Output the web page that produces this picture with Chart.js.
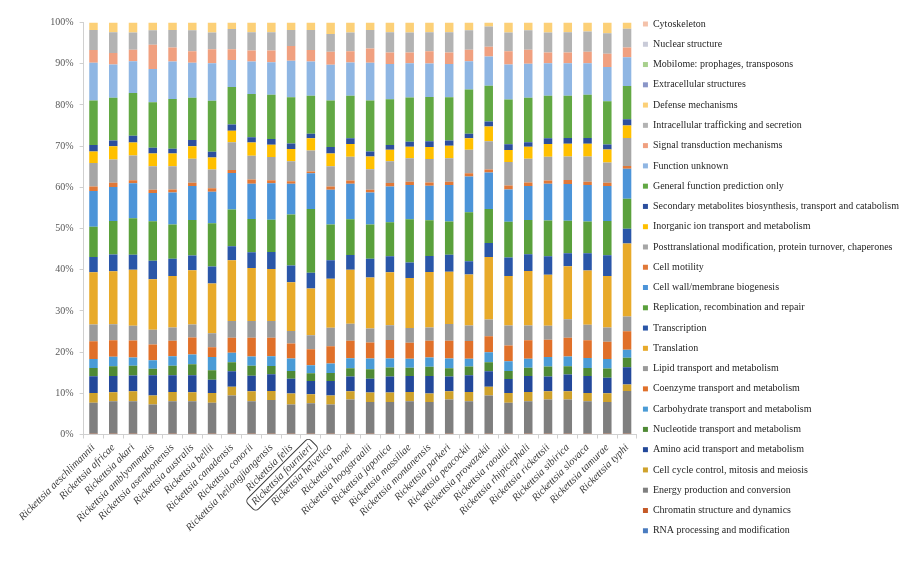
<!DOCTYPE html>
<html>
<head>
<meta charset="utf-8">
<title>COG functional categories in Rickettsia genomes</title>
<script src="https://cdn.jsdelivr.net/npm/chart.js@4/dist/chart.umd.min.js"></script>
<style>
  html, body { margin: 0; padding: 0; background: #ffffff; }
  canvas { display: block; }
</style>
</head>
<body>
<canvas id="cog" width="909" height="575"></canvas>
<script>
// Species on the category axis
const species = [
  'Rickettsia aeschlimannii', 'Rickettsia africae', 'Rickettsia akari', 'Rickettsia amblyommatis',
  'Rickettsia asembonensis', 'Rickettsia australis', 'Rickettsia bellii', 'Rickettsia canadensis',
  'Rickettsia conorii', 'Rickettsia heilongjiangensis', 'Rickettsia felis', 'Rickettsia fournieri',
  'Rickettsia helvetica', 'Rickettsia honei', 'Rickettsia hoogstraalii', 'Rickettsia japonica',
  'Rickettsia massiliae', 'Rickettsia montanensis', 'Rickettsia parkeri', 'Rickettsia peacockii',
  'Rickettsia prowazekii', 'Rickettsia raoultii', 'Rickettsia rhipicephali', 'Rickettsia rickettsii',
  'Rickettsia sibirica', 'Rickettsia slovaca', 'Rickettsia tamurae', 'Rickettsia typhi'
];
const highlighted = 'Rickettsia fournieri';

// Percentage axis labels
const percentTicks = ['0%', '10%', '20%', '30%', '40%', '50%', '60%', '70%', '80%', '90%', '100%'];

// Share of genes (%) per COG category, one value per species
const rnaProcessing = [0.1,0.1,0.1,0.1,0.1,0.1,0.1,0.1,0.1,0.1,0.1,0.1,0.1,0.1,0.1,0.1,0.1,0.1,0.1,0.1,0.1,0.1,0.1,0.1,0.1,0.1,0.1,0.1];
const chromatin     = [0.1,0.1,0.1,0.1,0.1,0.1,0.1,0.1,0.1,0.1,0.1,0.1,0.1,0.1,0.1,0.1,0.1,0.1,0.1,0.1,0.1,0.1,0.1,0.1,0.1,0.1,0.1,0.1];
const energy        = [7.5,7.9,7.9,7.1,7.9,7.9,7.5,9.3,7.9,8.2,7.1,7.4,7.1,8.3,7.7,7.7,7.9,7.7,8.3,7.9,9.3,7.5,7.9,8.3,8.3,7.9,7.7,10.4];
const cellCycle     = [2.4,2.2,2.4,2.2,2.2,2.2,2.4,2.1,2.4,2.2,2.7,2.2,2.2,2.0,2.3,2.3,2.2,2.1,2.0,2.2,2.1,2.4,2.2,2.0,2.0,2.0,2.1,1.6];
const aminoAcid     = [4.1,3.9,3.8,4.9,4.1,4.1,3.2,3.8,3.8,4.1,3.6,3.2,3.5,3.6,3.4,3.9,3.9,4.2,3.6,4.1,3.8,3.4,3.9,3.6,4.1,4.1,3.8,4.2];
const nucleotide    = [2.0,2.4,2.4,1.6,2.3,2.7,2.3,2.2,2.4,2.0,1.9,1.9,2.0,2.0,2.3,2.2,2.0,2.3,2.0,2.1,2.2,1.9,2.0,2.4,2.0,2.0,2.2,2.3];
const carbohydrate  = [2.2,2.3,2.0,2.1,2.3,2.4,3.2,2.3,2.3,2.4,3.0,1.9,2.3,2.4,2.6,2.2,2.2,2.2,2.4,1.9,2.4,2.4,2.2,2.3,2.4,2.4,2.3,2.0];
const coenzyme      = [4.3,4.0,4.1,3.8,3.8,4.1,2.4,3.6,4.5,4.5,3.7,3.9,4.2,4.3,3.9,4.5,3.9,4.1,4.3,4.3,3.9,3.8,4.5,4.2,4.5,4.3,4.2,4.5];
const lipid         = [4.1,3.9,3.6,3.6,3.2,3.2,3.4,4.1,4.1,4.1,3.0,3.4,4.5,4.1,3.4,3.6,3.6,3.2,4.1,3.8,4.1,4.9,3.6,3.4,4.5,3.8,3.5,3.6];
const translation   = [12.7,12.9,13.6,12.3,12.5,13.2,12.1,14.8,12.9,12.7,11.9,11.4,11.9,13.1,12.4,12.9,12.1,13.5,12.7,12.4,15.2,12.0,13.2,12.4,12.9,13.2,12.5,17.8];
const transcription = [3.7,4.1,3.6,4.5,4.2,3.6,4.1,3.4,3.8,4.1,4.1,3.8,4.5,3.6,4.6,3.9,3.8,3.9,4.1,3.2,3.4,4.5,4.1,4.5,3.2,4.2,5.0,3.6];
const replication   = [7.4,8.1,8.9,9.6,8.3,8.6,10.5,8.9,8.1,7.9,12.4,15.5,8.7,8.7,8.3,8.3,10.5,8.7,8.1,11.9,8.3,8.7,8.3,8.7,7.9,7.7,8.3,7.3];
const cellWall      = [8.7,8.3,8.5,6.9,7.8,8.3,7.7,8.9,8.6,8.9,7.5,8.7,8.5,8.6,7.8,8.7,8.3,8.4,8.9,8.7,8.9,7.8,8.3,8.9,8.9,8.9,8.5,7.3];
const cellMotility  = [1.1,1.0,0.7,0.8,0.7,0.8,0.8,0.7,1.0,0.7,0.6,0.4,0.8,0.8,0.7,0.8,0.8,0.8,0.8,0.8,0.7,1.0,0.8,0.8,1.0,0.8,0.8,0.7];
const posttrans     = [5.7,5.7,6.0,5.7,5.7,5.8,4.6,6.8,5.8,5.7,4.9,5.1,4.9,5.8,5.0,5.3,5.7,5.7,5.7,5.7,6.9,5.7,5.8,5.8,5.7,6.1,4.9,6.8];
const inorganicIon  = [2.8,3.2,3.2,3.1,3.1,3.1,2.9,2.8,3.2,3.0,3.0,3.0,3.1,3.1,3.1,2.8,2.8,2.9,3.0,2.8,3.6,2.9,2.9,3.1,3.1,3.1,3.2,3.1];
const secondary     = [1.6,1.4,1.6,1.4,1.1,1.5,1.4,1.5,1.3,1.4,1.3,1.1,1.6,1.4,1.2,1.2,1.2,1.4,1.3,1.1,1.2,1.4,1.1,1.4,1.4,1.4,1.2,1.5];
const generalFunc   = [10.8,10.4,10.4,11.1,12.1,10.3,12.4,9.1,10.5,10.8,11.3,9.2,11.3,10.3,12.4,11.1,10.8,10.8,10.5,10.7,8.7,10.9,10.8,10.3,10.3,10.5,10.5,8.1];
const unknownFunc   = [9.2,8.1,7.7,8.1,9.1,8.5,9.1,6.6,7.9,7.9,8.9,8.3,8.7,8.1,9.2,8.6,8.3,8.1,8.1,6.9,7.1,8.5,8.3,7.9,7.9,7.7,8.3,7.0];
const signalTrans   = [3.1,2.8,2.8,5.9,3.4,2.8,3.4,2.6,2.7,2.9,3.6,2.8,3.2,2.7,3.5,2.8,2.6,3.0,2.8,2.8,2.4,3.2,3.4,2.6,2.6,2.8,3.2,2.4];
const trafficking   = [4.9,5.0,4.2,3.5,4.3,5.1,4.1,4.9,4.4,4.4,3.9,4.9,4.3,4.6,4.5,4.9,4.9,4.6,4.9,4.7,4.9,4.6,4.7,4.9,4.9,4.9,5.0,4.6];
const defense       = [1.8,2.4,2.4,1.9,1.8,1.9,2.4,1.6,2.4,2.4,1.8,1.8,2.8,2.4,1.8,2.4,2.4,2.4,2.4,1.9,1.0,2.4,1.9,2.4,2.4,2.2,2.6,1.5];
const extracellular = [0,0,0,0,0,0,0,0,0,0,0,0,0,0,0,0,0,0,0,0,0,0,0,0,0,0,0,0];
const mobilome      = [0,0,0,0,0,0,0,0,0,0,0,0,0,0,0,0,0,0,0,0,0,0,0,0,0,0,0,0];
const nuclear       = [0,0,0,0,0,0,0,0,0,0,0,0,0,0,0,0,0,0,0,0,0,0,0,0,0,0,0,0];
const cytoskeleton  = [0,0,0,0,0,0,0,0,0,0,0,0,0,0,0,0,0,0,0,0,0,0,0,0,0,0,0,0];

// Stacking order, bottom segment first
const categories = [
  ['RNA processing and modification', rnaProcessing, '#4a7cc0'],
  ['Chromatin structure and dynamics', chromatin, '#c55a28'],
  ['Energy production and conversion', energy, '#7f7f7f'],
  ['Cell cycle control, mitosis and meiosis', cellCycle, '#cfa22c'],
  ['Amino acid transport and metabolism', aminoAcid, '#23489a'],
  ['Nucleotide transport and metabolism', nucleotide, '#4f8a35'],
  ['Carbohydrate transport and metabolism', carbohydrate, '#4a9bd6'],
  ['Coenzyme transport and metabolism', coenzyme, '#e0702a'],
  ['Lipid transport and metabolism', lipid, '#9a9a9a'],
  ['Translation', translation, '#e8aa2a'],
  ['Transcription', transcription, '#2a56a8'],
  ['Replication, recombination and repair', replication, '#5aa03c'],
  ['Cell wall/membrane biogenesis', cellWall, '#4c94d8'],
  ['Cell motility', cellMotility, '#e07838'],
  ['Posttranslational modification, protein turnover, chaperones', posttrans, '#a6a6a6'],
  ['Inorganic ion transport and metabolism', inorganicIon, '#ffc000'],
  ['Secondary metabolites biosynthesis, transport and catabolism', secondary, '#2c4f9e'],
  ['General function prediction only', generalFunc, '#62a844'],
  ['Function unknown', unknownFunc, '#8fb6e3'],
  ['Signal transduction mechanisms', signalTrans, '#f0a080'],
  ['Intracellular trafficking and secretion', trafficking, '#b3b3b3'],
  ['Defense mechanisms', defense, '#fcd077'],
  ['Extracellular structures', extracellular, '#8a96c8'],
  ['Mobilome: prophages, transposons', mobilome, '#a8d08d'],
  ['Nuclear structure', nuclear, '#c9cbd8'],
  ['Cytoskeleton', cytoskeleton, '#f4c2aa']
];

// Each column is scaled to 100 %
const columnTotals = species.map((_, i) => categories.reduce((s, c) => s + c[1][i], 0));
const datasets = categories.map(([label, values, color]) => ({
  label,
  data: values.map((v, i) => v / columnTotals[i] * 100),
  backgroundColor: color,
  borderWidth: 0,
  barPercentage: 0.43,
  categoryPercentage: 1.0
}));

const serif = 'Liberation Serif, Times New Roman, serif';

// Rounded frame around one species name on the category axis
const labelFrame = {
  id: 'labelFrame',
  afterDraw(chart) {
    const xs = chart.scales.x;
    const idx = species.indexOf(highlighted);
    if (idx < 0) return;
    const tickFont = xs.options.ticks.font;
    const size = tickFont.size;
    const lh = size * 1.2;
    const ctx = chart.ctx;
    ctx.save();
    ctx.font = 'italic ' + size + 'px ' + tickFont.family;
    const w = ctx.measureText(species[idx]).width;
    const rot = -xs.labelRotation * Math.PI / 180;
    const px = xs.getPixelForTick(idx) + (lh / 2) * Math.sin(rot);
    const py = xs.top + xs.options.grid.tickLength + xs.options.ticks.padding;
    ctx.translate(px, py);
    ctx.rotate(rot);
    const x0 = -w - 4, y0 = lh / 2 - 7.5, bw = w + 8, bh = 15, r = 4;
    ctx.beginPath();
    ctx.moveTo(x0 + r, y0);
    ctx.lineTo(x0 + bw - r, y0);
    ctx.arcTo(x0 + bw, y0, x0 + bw, y0 + r, r);
    ctx.lineTo(x0 + bw, y0 + bh - r);
    ctx.arcTo(x0 + bw, y0 + bh, x0 + bw - r, y0 + bh, r);
    ctx.lineTo(x0 + r, y0 + bh);
    ctx.arcTo(x0, y0 + bh, x0, y0 + bh - r, r);
    ctx.lineTo(x0, y0 + r);
    ctx.arcTo(x0, y0, x0 + r, y0, r);
    ctx.closePath();
    ctx.strokeStyle = '#3a3a3a';
    ctx.lineWidth = 1;
    ctx.stroke();
    ctx.restore();
  }
};

new Chart(document.getElementById('cog'), {
  type: 'bar',
  data: { labels: species, datasets },
  plugins: [labelFrame],
  options: {
    responsive: false,
    animation: false,
    layout: { padding: { top: 13, right: 0, bottom: 0, left: 0 } },
    scales: {
      x: {
        stacked: true,
        offset: true,
        grid: { offset: true, drawOnChartArea: false, drawTicks: true, tickLength: 4, color: '#d0d0d0' },
        border: { display: true, color: '#d0d0d0' },
        ticks: {
          autoSkip: false,
          minRotation: 45,
          maxRotation: 45,
          padding: 3,
          color: '#3a3a3a',
          font: { family: serif, style: 'italic', size: 10.5 }
        },
        afterFit(scale) { scale.height = 140.5; }
      },
      y: {
        stacked: true,
        min: 0,
        max: 100,
        grid: { drawOnChartArea: false, drawTicks: true, tickLength: 4, color: '#d0d0d0' },
        border: { display: true, color: '#d0d0d0' },
        ticks: {
          stepSize: 10,
          padding: 6,
          color: '#595959',
          font: { family: serif, size: 10 },
          callback: (v) => percentTicks[Math.round(v / 10)]
        },
        afterFit(scale) { scale.width = 83.6; }
      }
    },
    plugins: {
      title: {
        display: true,
        text: '',
        fullSize: false,
        padding: 0,
        font: { size: 9, lineHeight: '9.5px' }
      },
      tooltip: { enabled: false },
      legend: {
        position: 'right',
        align: 'start',
        reverse: true,
        maxWidth: 280.8,
        labels: {
          boxWidth: 5,
          boxHeight: 5,
          padding: 6,
          color: '#262626',
          font: { family: serif, size: 10, lineHeight: '14.27px' },
          generateLabels(chart) {
            const items = Chart.defaults.plugins.legend.labels.generateLabels(chart);
            return items.map((it) => Object.assign(it, { text: [it.text] }));
          }
        }
      }
    }
  }
});
</script>
</body>
</html>
